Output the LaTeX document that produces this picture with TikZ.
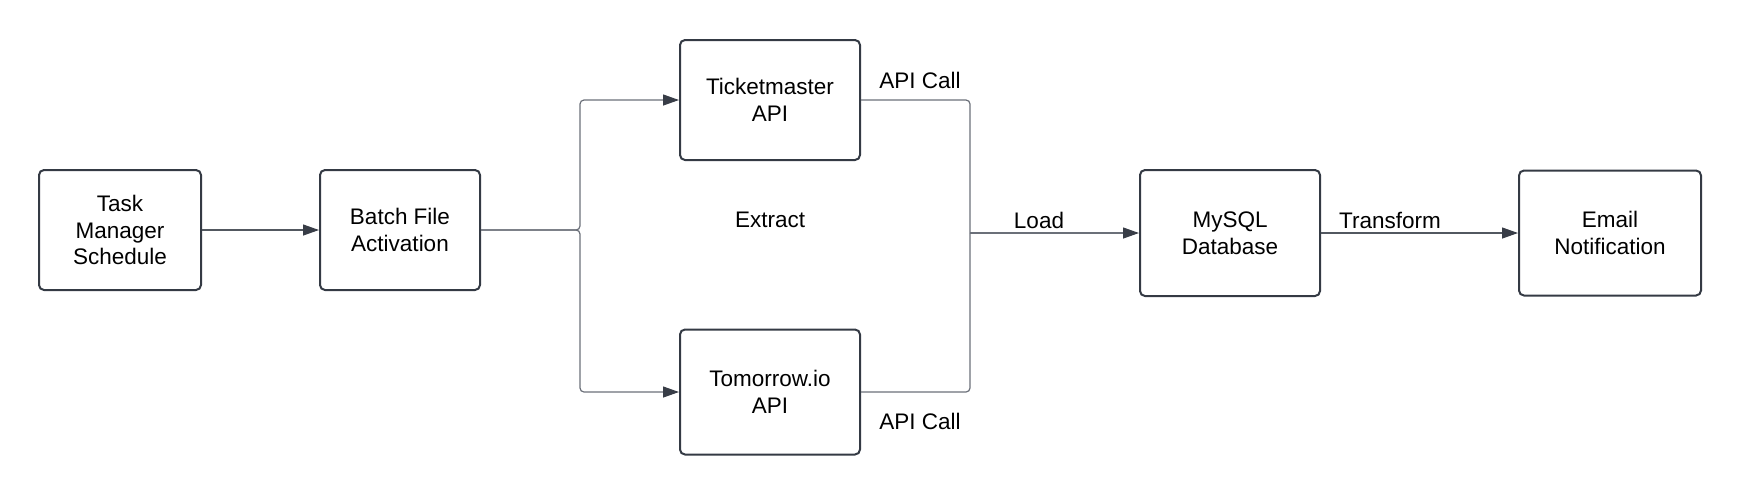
\documentclass[tikz,border=0pt]{standalone}
\usepackage{fontspec}
\setmainfont{Liberation Sans}
\usetikzlibrary{arrows.meta}
\definecolor{boxline}{HTML}{343A44}
\definecolor{connline}{HTML}{6B7079}
\definecolor{tipcol}{HTML}{383D47}
\tikzset{
  box/.style={draw=boxline, line width=1pt, rounded corners=2.5pt, align=center,
    font=\fontsize{11.25}{13.35}\selectfont, inner sep=0pt},
  lbl/.style={font=\fontsize{11.25}{13.35}\selectfont, inner sep=0pt},
  conn/.style={draw=connline, line width=0.6pt, rounded corners=2pt},
  tip/.style={-{Triangle[length=8pt,width=5.5pt,color=tipcol]}}
}
\begin{document}
\begin{tikzpicture}[x=0.5pt,y=-0.5pt]
\useasboundingbox (0,0) rectangle (1740,495);
\node[box, minimum width=81pt, minimum height=60pt] (task) at (120,230) {Task\\Manager\\Schedule};
\node[box, minimum width=80pt, minimum height=60pt] (batch) at (400,230) {Batch File\\Activation};
\node[box, minimum width=90pt, minimum height=60pt] (tm) at (770,100) {Ticketmaster\\API};
\node[box, minimum width=90pt, minimum height=62.5pt] (tio) at (770,392) {Tomorrow.io\\API};
\node[box, minimum width=90pt, minimum height=63pt] (db) at (1230,233) {MySQL\\Database};
\node[box, minimum width=91pt, minimum height=62.5pt] (mail) at (1610,233) {Email\\Notification};

\node[lbl] (extract) at (770,220) {Extract};
\node[lbl] (call1) at (920,80) {API Call};
\node[lbl] (call2) at (920,421) {API Call};
\node[lbl] (load) at (1039,220) {Load};
\node[lbl] (transform) at (1390,220) {Transform};

\coordinate (j1) at (580,230);
\coordinate (j2) at (970,233);

\draw[conn, draw=boxline!85, tip] (task.east) -- (batch.west);
\draw[conn, tip] (batch.east) -- (j1) |- (tm.west);
\draw[conn, tip] (batch.east) -- (j1) |- (tio.west);
\draw[conn] (tm.east) -| (j2);
\draw[conn] (tio.east) -| (j2);
\draw[conn, tip] (j2) -- (db.west);
\draw[conn, draw=boxline!85, tip] (db.east) -- (mail.west);
\end{tikzpicture}
\end{document}
